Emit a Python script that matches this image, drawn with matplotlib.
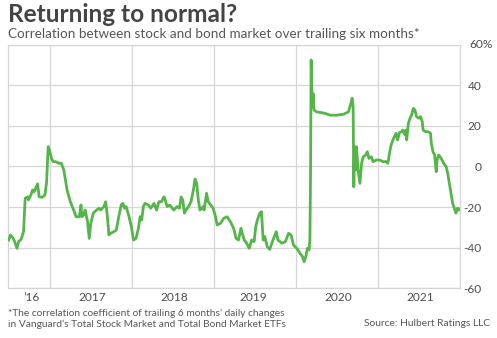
import matplotlib
matplotlib.use("Agg")
import matplotlib.pyplot as plt

plt.rcParams['font.family'] = ['Lato', 'DejaVu Sans']

# data: fractional year, correlation (%)
years = [2016.50, 2016.52, 2016.55, 2016.57, 2016.60, 2016.62, 2016.65, 2016.68, 2016.69, 2016.70,
         2016.73, 2016.74, 2016.77, 2016.79, 2016.81, 2016.85, 2016.87, 2016.91, 2016.94, 2016.96,
         2016.98, 2017.00, 2017.02, 2017.04, 2017.07, 2017.11, 2017.14, 2017.17, 2017.21, 2017.25,
         2017.29, 2017.32, 2017.36, 2017.38, 2017.39, 2017.41, 2017.43, 2017.46, 2017.48, 2017.50,
         2017.53, 2017.57, 2017.60, 2017.62, 2017.66, 2017.68, 2017.70, 2017.72, 2017.74, 2017.78,
         2017.81, 2017.84, 2017.87, 2017.89, 2017.91, 2017.93, 2017.96, 2017.99, 2018.02, 2018.05,
         2018.08, 2018.10, 2018.12, 2018.14, 2018.16, 2018.20, 2018.23, 2018.27, 2018.30, 2018.33,
         2018.36, 2018.39, 2018.40, 2018.43, 2018.46, 2018.51, 2018.55, 2018.58, 2018.60, 2018.62,
         2018.64, 2018.66, 2018.69, 2018.72, 2018.75, 2018.77, 2018.79, 2018.81, 2018.83, 2018.87,
         2018.88, 2018.91, 2018.93, 2018.96, 2018.99, 2019.02, 2019.04, 2019.08, 2019.12, 2019.16,
         2019.20, 2019.24, 2019.27, 2019.30, 2019.33, 2019.35, 2019.37, 2019.40, 2019.43, 2019.46,
         2019.49, 2019.51, 2019.53, 2019.56, 2019.58, 2019.60, 2019.62, 2019.65, 2019.68, 2019.72,
         2019.76, 2019.78, 2019.83, 2019.87, 2019.91, 2019.94, 2019.97, 2020.01, 2020.05, 2020.08,
         2020.10, 2020.12, 2020.14, 2020.16, 2020.17, 2020.178, 2020.185, 2020.198, 2020.21, 2020.22,
         2020.25, 2020.31, 2020.35, 2020.41, 2020.49, 2020.58, 2020.64, 2020.67, 2020.685, 2020.697,
         2020.705, 2020.714, 2020.73, 2020.738, 2020.757, 2020.78, 2020.80, 2020.82, 2020.85, 2020.87,
         2020.89, 2020.92, 2020.94, 2020.98, 2021.02, 2021.06, 2021.10, 2021.12, 2021.14, 2021.16,
         2021.19, 2021.22, 2021.24, 2021.26, 2021.29, 2021.30, 2021.33, 2021.34, 2021.35, 2021.37,
         2021.39, 2021.41, 2021.43, 2021.45, 2021.47, 2021.50, 2021.52, 2021.54, 2021.55, 2021.58,
         2021.61, 2021.64, 2021.65, 2021.67, 2021.69, 2021.71, 2021.72, 2021.74, 2021.77, 2021.80,
         2021.83, 2021.85, 2021.87, 2021.89, 2021.91, 2021.93, 2021.95, 2021.97, 2021.99, 2022.00]
corr = [-36.3, -33.8, -35.3, -37.0, -40.4, -37.0, -36.0, -32.0, -23.0, -15.6,
        -15.0, -16.5, -14.0, -11.6, -12.4, -8.6, -15.0, -15.2, -14.0, -8.0,
        9.8, 7.3, 4.0, 2.4, 2.4, 1.6, 1.6, -1.7, -11.6, -17.4,
        -21.5, -24.8, -24.8, -19.0, -24.8, -24.0, -21.5, -27.2, -35.5, -28.0,
        -23.0, -21.5, -20.6, -21.5, -19.8, -17.4, -24.0, -33.8, -33.0, -32.2,
        -31.4, -24.8, -19.0, -18.2, -20.6, -19.8, -24.0, -28.9, -36.3, -35.5,
        -30.5, -24.8, -26.4, -19.8, -18.2, -19.0, -20.6, -18.2, -21.5, -17.4,
        -17.4, -15.0, -15.7, -19.8, -19.0, -21.5, -19.8, -20.6, -15.0, -16.5,
        -23.0, -21.5, -19.8, -17.4, -11.6, -6.2, -8.3, -16.5, -21.5, -19.8,
        -21.5, -13.2, -17.4, -19.0, -20.6, -24.8, -28.9, -28.0, -25.6, -24.8,
        -27.2, -30.5, -35.5, -36.3, -30.5, -33.8, -36.3, -37.9, -40.4, -36.3,
        -37.1, -29.7, -26.4, -23.0, -22.3, -36.3, -34.6, -39.6, -40.9, -36.3,
        -32.2, -36.3, -37.9, -37.1, -33.0, -33.8, -38.8, -40.4, -42.9, -44.5,
        -47.0, -44.5, -40.4, -41.2, -36.3, -3.0, 52.6, 29.5, 36.0, 27.9,
        27.0, 26.6, 26.3, 25.4, 25.3, 25.8, 27.0, 31.2, 33.7, 29.5,
        -10.0, 9.8, -1.7, 9.8, -1.7, -8.3, 1.6, 4.8, 5.7, 7.3,
        4.0, 4.8, 2.4, 3.2, 3.2, 2.4, 2.4, 1.6, 6.5, 10.6,
        13.9, 16.4, 13.1, 16.7, 17.2, 18.0, 15.6, 18.0, 13.1, 21.3,
        23.8, 25.4, 28.7, 27.9, 24.6, 23.8, 24.6, 22.1, 18.0, 17.2,
        17.2, 16.4, 11.5, 7.3, 5.7, -2.6, 3.2, 5.7, 4.0, 1.6,
        0.0, -3.4, -8.3, -13.2, -18.2, -20.6, -23.0, -20.6, -21.5, -21.0]

year_grid = [2017, 2018, 2019, 2020, 2021]
year_label_pos = [2016.78, 2017.52, 2018.52, 2019.48, 2020.52, 2021.52]
year_labels = ['\u201916', '2017', '2018', '2019', '2020', '2021']
y_ticks = [-60, -40, -20, 0, 20, 40, 60]
y_labels = ['-60', '-40', '-20', '0', '20', '40', '']  # top one drawn as "60%" below

grid_col = '#d6d6d6'
text_col = '#4d4d4d'

fig = plt.figure(figsize=(4.97, 3.38), dpi=100)
ax = fig.add_axes([0.0161, 0.1479, 0.9095, 0.719])

ax.plot(years, corr, color='#55b54b', lw=2.0, solid_joinstyle='round', zorder=3)

ax.set_xlim(2016.49, 2022.0)
ax.set_ylim(-60, 60)

# grid
for x in year_grid:
    ax.axvline(x, color=grid_col, lw=0.9, zorder=1)
for y in y_ticks:
    ax.axhline(y, color=grid_col, lw=0.9, zorder=1)
for s in ax.spines.values():
    s.set_color(grid_col)
    s.set_linewidth(0.9)

ax.set_xticks(year_label_pos)
ax.set_xticklabels(year_labels)
ax.yaxis.tick_right()
ax.set_yticks(y_ticks)
ax.set_yticklabels(y_labels)
ax.tick_params(axis='both', length=0, labelsize=8.6, colors=text_col)
ax.tick_params(axis='x', pad=3)
ax.tick_params(axis='y', pad=15.5)
for lab in ax.get_yticklabels():
    lab.set_horizontalalignment('right')
ax.text(1.0 + 9.5 / 452, y_ticks[-1], '60%', transform=ax.get_yaxis_transform(),
        ha='left', va='center', fontsize=8.6, color=text_col)

fig.text(8 / 497, 1 - 14 / 338, 'Returning to normal?', fontsize=17.6, fontweight='bold',
         color='#444444', ha='left', va='center')
fig.text(8 / 497, 1 - 34 / 338, 'Correlation between stock and bond market over trailing six months*',
         fontsize=9.75, color='#555555', ha='left', va='center')
fig.text(8 / 497, 1 - 313 / 338, '*The correlation coefficient of trailing 6 months\u2019 daily changes',
         fontsize=7.3, color='#555555', ha='left', va='center')
fig.text(8 / 497, 1 - 324 / 338, 'in Vanguard\u2019s Total Stock Market and Total Bond Market ETFs',
         fontsize=7.3, color='#555555', ha='left', va='center')
fig.text(490 / 497, 1 - 324 / 338, 'Source: Hulbert Ratings LLC',
         fontsize=7.35, color='#555555', ha='right', va='center')

fig.savefig('out.png', dpi=100, facecolor='white')
